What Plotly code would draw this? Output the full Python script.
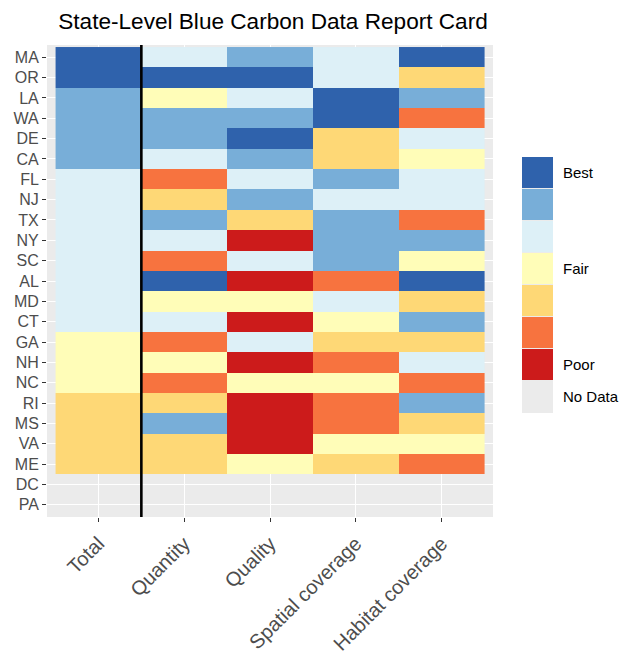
import plotly.graph_objects as go

# ---- data ----
states = ["MA", "OR", "LA", "WA", "DE", "CA", "FL", "NJ", "TX", "NY", "SC", "AL",
          "MD", "CT", "GA", "NH", "NC", "RI", "MS", "VA", "ME", "DC", "PA"]
metrics = ["Total", "Quantity", "Quality", "Spatial coverage", "Habitat coverage"]

# scores: 7 = Best ... 4 = Fair ... 1 = Poor, None = No Data
total    = [7, 7, 6, 6, 6, 6, 5, 5, 5, 5, 5, 5, 5, 5, 4, 4, 4, 3, 3, 3, 3, None, None]
quantity = [5, 7, 4, 6, 6, 5, 2, 3, 6, 5, 2, 7, 4, 5, 2, 4, 2, 3, 6, 3, 3, None, None]
quality  = [6, 7, 5, 6, 7, 6, 5, 6, 3, 1, 5, 1, 4, 1, 5, 1, 4, 1, 1, 1, 4, None, None]
spatial  = [5, 5, 7, 7, 3, 3, 6, 5, 6, 6, 6, 2, 5, 4, 3, 2, 4, 2, 2, 4, 3, None, None]
habitat  = [7, 3, 6, 2, 5, 4, 5, 5, 2, 6, 4, 7, 3, 6, 3, 5, 2, 6, 3, 4, 2, None, None]

legend_levels = [7, 6, 5, 4, 3, 2, 1, 0]
legend_labels = ["Best", "", "", "Fair", "", "", "Poor", "No Data"]

score_colors = {0: "#EBEBEB", 1: "#CC1B1B", 2: "#F7733F", 3: "#FED876",
                4: "#FFFDB8", 5: "#DDF0F7", 6: "#78AED8", 7: "#2F62AC"}

# ---- stepped colorscale over 0..7 ----
n = 8
colorscale = []
for k in range(n):
    c = score_colors[k]
    colorscale.append([k / n, c])
    colorscale.append([(k + 1) / n, c])

z = [list(row) for row in zip(total, quantity, quality, spatial, habitat)]

fig = go.Figure()
fig.add_trace(go.Heatmap(
    z=z, x=metrics, y=states,
    colorscale=colorscale, zmin=-0.5, zmax=7.5,
    showscale=False, hoverongaps=False,
    xaxis="x", yaxis="y",
))

# legend drawn as a small one-column heatmap
fig.add_trace(go.Heatmap(
    z=[[v] for v in legend_levels],
    x=[0], y=list(range(len(legend_levels))),
    colorscale=colorscale, zmin=-0.5, zmax=7.5,
    showscale=False, ygap=1, hoverinfo="skip",
    xaxis="x2", yaxis="y2",
))

# divider between Total and the component columns
fig.add_shape(type="line", xref="x", yref="paper",
              x0=0.5, x1=0.5, y0=0, y1=1,
              line=dict(color="black", width=2.6), layer="above")

W, H = 623, 660
ml, mr, mt, mb = 47, 10, 45, 143
pw = W - ml - mr
ph = H - mt - mb
main_right = (493 - ml) / pw
leg_x0 = (522 - ml) / pw
leg_x1 = (553 - ml) / pw
leg_y0 = (H - mb - 413) / ph
leg_y1 = (H - mb - 157) / ph

fig.update_layout(
    width=W, height=H,
    margin=dict(l=ml, r=mr, t=mt, b=mb, autoexpand=False),
    paper_bgcolor="white",
    plot_bgcolor="#EBEBEB",
    font=dict(family="Liberation Sans, Arial, sans-serif", color="#4D4D4D"),
    title=dict(text="State-Level Blue Carbon Data Report Card",
               x=(273 - ml) / pw,
               xref="paper", xanchor="center",
               y=1 - 21 / H, yref="container", yanchor="middle",
               font=dict(size=22.6, color="black")),
    xaxis=dict(domain=[0, main_right], type="category", automargin=False,
               categoryorder="array", categoryarray=metrics,
               range=[-0.6, len(metrics) - 0.4],
               showgrid=True, gridcolor="white", gridwidth=1.2,
               zeroline=False, ticks="outside", ticklen=4, tickwidth=1,
               tickcolor="#333333", tickangle=-45, ticklabelstandoff=2,
               tickfont=dict(size=20, color="#4D4D4D")),
    yaxis=dict(type="category", categoryorder="array", categoryarray=states,
               automargin=False,
               range=[len(states) - 0.4, -0.6],
               showgrid=True, gridcolor="white", gridwidth=1.2,
               zeroline=False, ticks="outside", ticklen=4, tickwidth=1,
               tickcolor="#333333",
               tickfont=dict(size=16, color="#4D4D4D")),
    xaxis2=dict(domain=[leg_x0, leg_x1], anchor="y2", range=[-0.5, 0.5],
                automargin=False,
                showgrid=False, zeroline=False, showticklabels=False,
                ticks="", showline=False),
    yaxis2=dict(domain=[leg_y0, leg_y1], anchor="x2", side="right",
                automargin=False,
                range=[len(legend_levels) - 0.5, -0.5],
                tickmode="array", tickvals=list(range(len(legend_levels))),
                ticktext=legend_labels,
                showgrid=False, zeroline=False, showline=False,
                ticks="outside", ticklen=6, tickcolor="rgba(0,0,0,0)",
                tickfont=dict(size=15, color="black")),
)

fig.write_html("out.html",
               config={"displayModeBar": False},
               post_script="document.body.style.margin='0';"
                           "document.body.style.overflow='hidden';")
